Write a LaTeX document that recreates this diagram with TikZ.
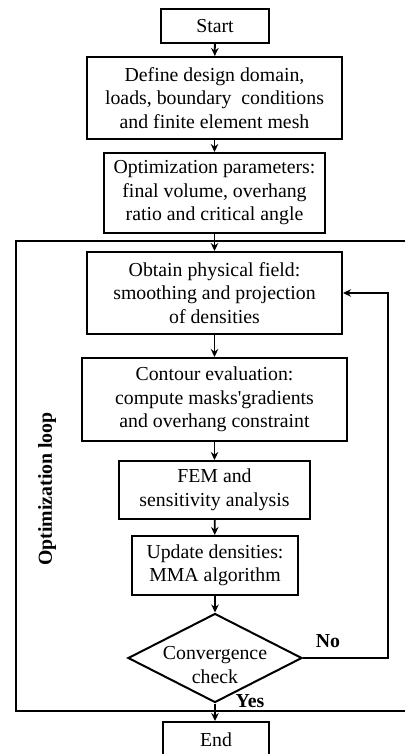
\documentclass[tikz,border=0pt]{standalone}
\usepackage{fontspec}
\setmainfont{Liberation Serif}
\usetikzlibrary{shapes.geometric,arrows.meta}
\begin{document}
\begin{tikzpicture}[x=1pt,y=-1pt,
  txt/.style={font=\fontsize{19.8}{23.5}\selectfont},
  box/.style={draw,line width=2pt,inner sep=0pt,align=center,txt},
  lbl/.style={inner sep=0pt,font=\fontsize{19.8}{23.5}\selectfont\bfseries},
  arr/.style={line width=1.8pt,-{Stealth[length=8pt,width=7.5pt]}},
  ln/.style={line width=1.8pt}]
\useasboundingbox (0,0) rectangle (405,754);
\node[box,minimum width=108pt,minimum height=34pt] (start) at (215,26) {Start};
\node[box,minimum width=255pt,minimum height=82pt] (define) at (214.5,98)
  {Define design domain,\\ loads, boundary\ \ conditions\\ and finite element mesh};
\node[box,minimum width=221pt,minimum height=80pt] (params) at (214.5,193)
  {Optimization parameters:\\ final volume, overhang\\ ratio and critical angle};
% optimization loop frame
\coordinate (ltop) at (405,241);
\coordinate (lbot) at (405,711);
\draw[ln] (ltop) -- (16,241) -- (16,711) -- (lbot);
\node[box,minimum width=255pt,minimum height=82pt] (obtain) at (214.5,293)
  {Obtain physical field:\\ smoothing and projection\\ of densities};
\node[box,minimum width=265pt,minimum height=83pt] (contour) at (214.5,399.5)
  {Contour evaluation:\\ compute masks\textquotesingle gradients\\ and overhang constraint};
\node[box,minimum width=191pt,minimum height=58pt] (fem) at (214.5,490)
  {FEM and\\ sensitivity analysis};
\node[box,minimum width=166pt,minimum height=59pt] (update) at (215,565.5)
  {Update densities:\\ MMA algorithm};
\node[draw,line width=2pt,diamond,minimum width=174pt,minimum height=89pt,inner sep=0pt] (conv) at (215,658) {};
\node[inner sep=0pt,align=center,txt] (convtext) at (215,665) {Convergence\\check};
\node[box,minimum width=106pt,minimum height=36pt] (end) at (216,740) {End};
\node[lbl,rotate=90] (looplbl) at (47,489) {Optimization loop};
\node[lbl] (nolbl) at (328,641) {No};
\node[lbl] (yeslbl) at (250,701) {Yes};
% connectors
\draw[arr] (start) -- (define);
\draw[arr] (define) -- (params);
\draw[arr] (params) -- (obtain);
\draw[arr] (obtain) -- (contour);
\draw[arr] (contour) -- (fem);
\draw[arr] (fem) -- (update);
\draw[arr] (update) -- (conv);
\draw[arr] (conv.south) -- (conv.south |- end.north);
\draw[arr] (conv.east) -- (388,658) |- (obtain.east);
\end{tikzpicture}
\end{document}
